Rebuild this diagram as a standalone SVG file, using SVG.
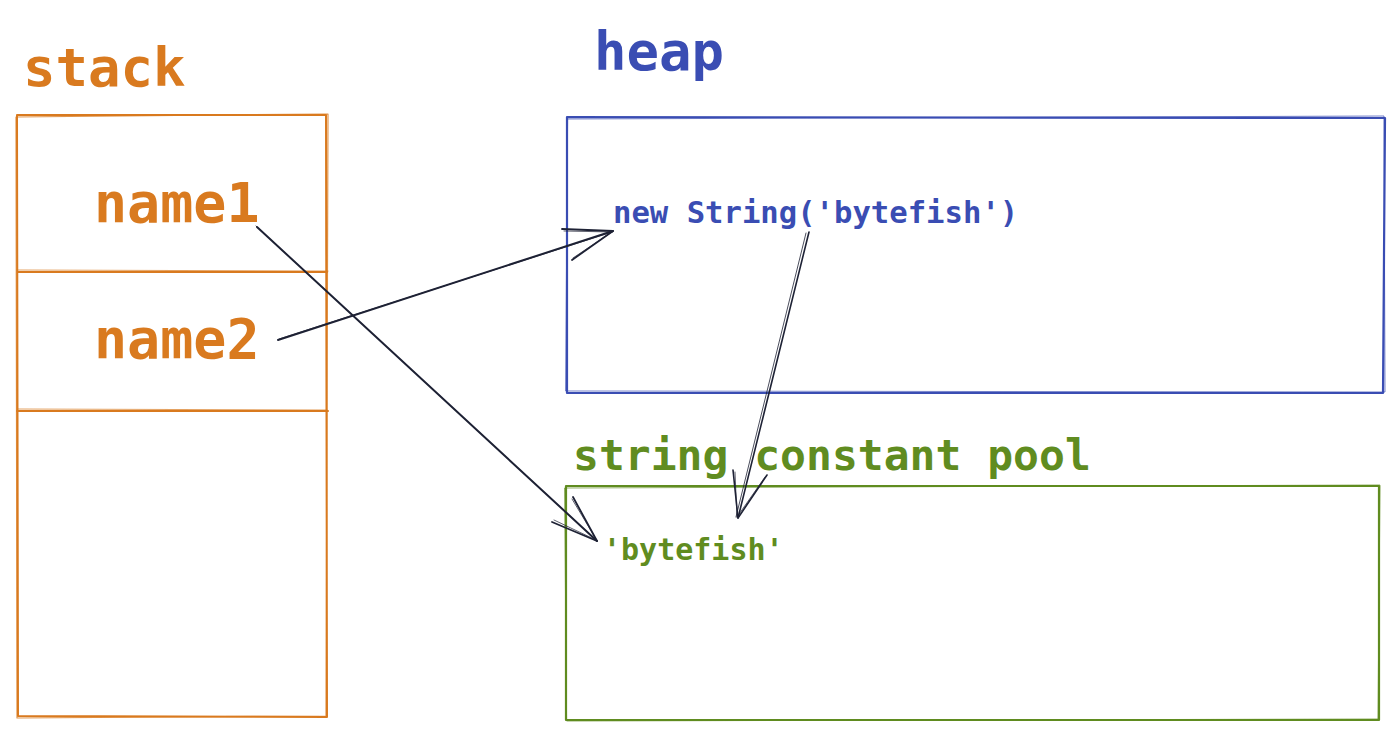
<svg xmlns="http://www.w3.org/2000/svg" width="1400" height="737" viewBox="0 0 1400 737">
  <style>
    .mono { font-family: "DejaVu Sans Mono", "Liberation Mono", monospace; font-weight: bold; }
    .orange { fill: #d97a1f; }
    .blue { fill: #3a4db3; }
    .green { fill: #608c20; }
    .box-o { fill: none; stroke: #d97a1f; stroke-linecap: round; stroke-linejoin: round; }
    .box-b { fill: none; stroke: #3a4db3; stroke-linecap: round; stroke-linejoin: round; }
    .box-g { fill: none; stroke: #608c20; stroke-linecap: round; stroke-linejoin: round; }
    .wire { fill: none; stroke: #1e2235; stroke-linecap: round; stroke-linejoin: round; }
  </style>
  <rect width="1400" height="737" fill="#ffffff"/>

  <!-- stack frame with two slots -->
  <g id="stack">
    <text class="mono orange" x="23" y="86" font-size="54">stack</text>
    <path class="box-o" stroke-width="2" d="M17 115 L326 115 L327 717 L18 716 Z"/>
    <path class="box-o" stroke-width="1.2" opacity="0.8" d="M16 117 L328 114 L326 716 L17 718 Z"/>
    <path class="box-o" stroke-width="2" d="M18 272 L327 272"/>
    <path class="box-o" stroke-width="1.2" opacity="0.7" d="M17 270 L328 271"/>
    <path class="box-o" stroke-width="2" d="M17 411 L328 411"/>
    <path class="box-o" stroke-width="1.2" opacity="0.7" d="M18 409 L327 410"/>
  </g>

  <g id="name1">
    <text class="mono orange" x="94" y="222" font-size="55">name1</text>
  </g>

  <g id="name2">
    <text class="mono orange" x="94" y="358" font-size="55">name2</text>
  </g>

  <!-- heap region -->
  <g id="heap">
    <text class="mono blue" x="594" y="70" font-size="54">heap</text>
    <path class="box-b" stroke-width="2.2" d="M567 117 L1385 118 L1383 393 L567 393 Z"/>
    <path class="box-b" stroke-width="1" opacity="0.7" d="M568 119 L1384 116 L1385 392 L566 391 Z"/>
  </g>

  <g id="new-string">
    <text class="mono blue" x="613" y="223" font-size="30.6">new String('bytefish')</text>
  </g>

  <!-- string constant pool region -->
  <g id="pool">
    <text class="mono green" x="573" y="470" font-size="43">string constant pool</text>
    <path class="box-g" stroke-width="2.2" d="M566 486 L1379 486 L1379 720 L566 720 Z"/>
    <path class="box-g" stroke-width="1" opacity="0.7" d="M565 488 L1380 485 L1378 719 L567 721 Z"/>
  </g>

  <g id="bytefish">
    <text class="mono green" x="603" y="560" font-size="30">'bytefish'</text>
  </g>

  <!-- references -->
  <g id="connectors">
    <!-- name1 -> 'bytefish' -->
    <path class="wire" stroke-width="2" d="M257 227 L597 541"/>
    <path class="wire" stroke-width="1" opacity="0.8" d="M256 226 L596 540"/>
    <path class="wire" stroke-width="1.8" d="M552 522 L597 541 M573 497 L597 541"/>
    <path class="wire" stroke-width="0.9" opacity="0.8" d="M554 520 L596 540 M572 499 L596 539"/>
    <!-- name2 -> new String(...) -->
    <path class="wire" stroke-width="2" d="M278 340 L613 231"/>
    <path class="wire" stroke-width="1" opacity="0.8" d="M279 339 L612 232"/>
    <path class="wire" stroke-width="1.8" d="M562 229 L613 231 M572 260 L613 231"/>
    <path class="wire" stroke-width="0.9" opacity="0.8" d="M564 231 L612 232 M573 258 L612 232"/>
    <!-- new String(...) -> 'bytefish' -->
    <path class="wire" stroke-width="1.6" d="M809 232 L738 518"/>
    <path class="wire" stroke-width="1" opacity="0.8" d="M806 233 L736 517"/>
    <path class="wire" stroke-width="1.6" d="M733 470 L738 518 M767 475 L738 518"/>
    <path class="wire" stroke-width="0.9" opacity="0.8" d="M735 472 L737 517 M765 477 L737 517"/>
  </g>
</svg>
